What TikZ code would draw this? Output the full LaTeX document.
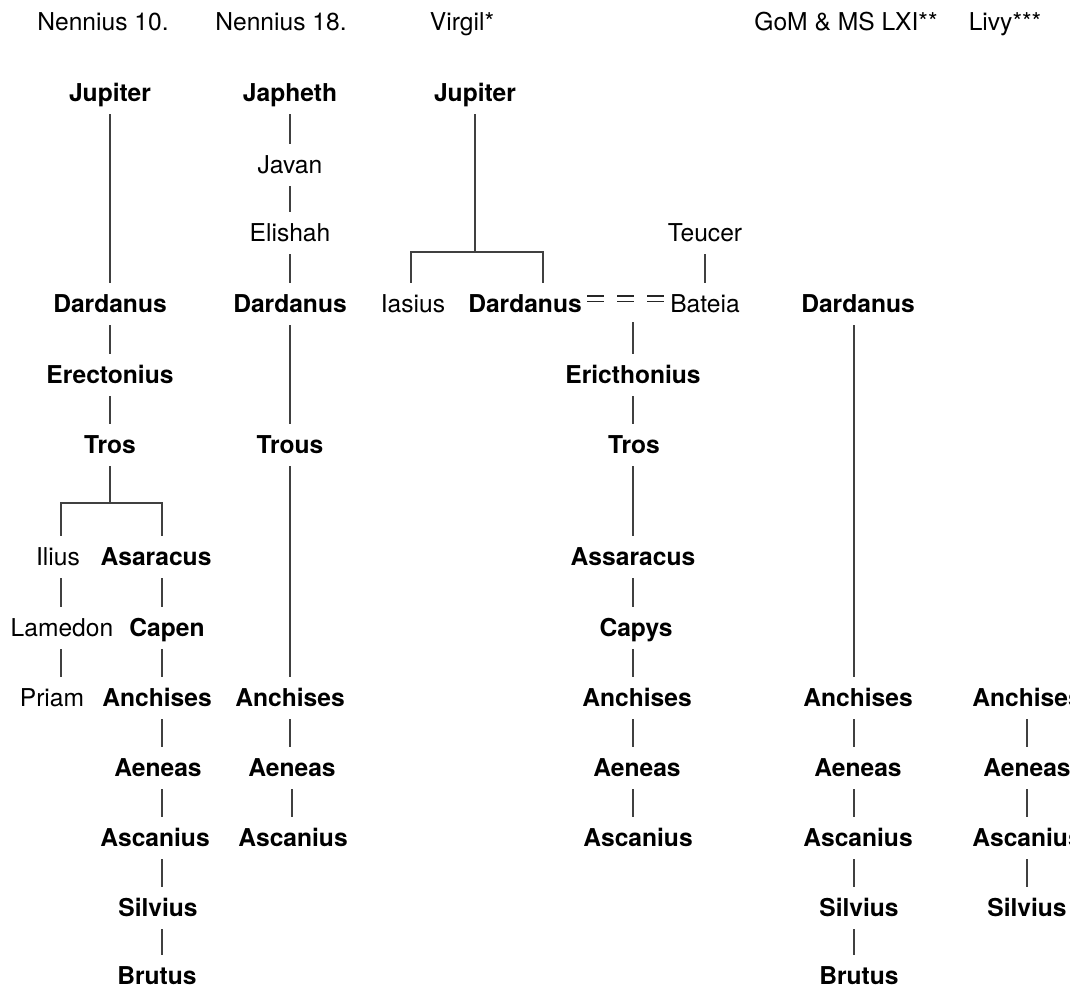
\documentclass[tikz,border=0pt]{standalone}
\usepackage{fontspec}
\setmainfont{TeX Gyre Heros}
\begin{document}
\begin{tikzpicture}[x=0.5pt,y=-0.5pt,
  nm/.style={inner xsep=0pt, inner ysep=6pt, text height=8.8pt, text depth=0pt, anchor=center, font=\fontsize{12.3}{14}\selectfont},
  bn/.style={nm, font=\fontsize{12.3}{14}\selectfont\bfseries},
  ln/.style={draw=black!75, line width=0.6pt},
  marry/.style={draw=black!85, line width=0.9pt, double=white, double distance=2pt, dash pattern=on 8.5pt off 6.5pt}]
\useasboundingbox (0,0) rectangle (1070,991);
\clip (0,0) rectangle (1070,991);
% headers
\node[nm] (h1) at (103,22) {Nennius 10.};
\node[nm] (h2) at (281,22) {Nennius 18.};
\node[nm] (h3) at (462,22) {Virgil*};
\node[nm] (h4) at (846,22) {GoM \& MS LXI**};
\node[nm] (h5) at (1005,22) {Livy***};
% Nennius 10
\node[bn] (JupA) at (110,93) {Jupiter};
\node[bn] (DardA) at (110,304) {Dardanus};
\node[bn] (EreA) at (110,375) {Erectonius};
\node[bn] (TrosA) at (110,445) {Tros};
\node[nm] (Ilius) at (58,557) {Ilius};
\node[nm] (Lamedon) at (62,628) {Lamedon};
\node[nm] (Priam) at (52,698) {Priam};
\node[bn] (AsaA) at (156,557) {Asaracus};
\node[bn] (Capen) at (167,628) {Capen};
\node[bn] (AnchA) at (157,698) {Anchises};
\node[bn] (AenA) at (158,768) {Aeneas};
\node[bn] (AscA) at (155,838) {Ascanius};
\node[bn] (SilA) at (158,908) {Silvius};
\node[bn] (BrutA) at (157,976) {Brutus};
\coordinate (al) at (61,503);
\coordinate (ar) at (162,503);
\draw[ln] (JupA.south) -- (JupA.south |- DardA.north);
\draw[ln] (DardA.south) -- (DardA.south |- EreA.north);
\draw[ln] (EreA.south) -- (EreA.south |- TrosA.north);
\draw[ln] (TrosA.south) -- (TrosA.south |- al);
\draw[ln] (Ilius.north -| al) -- (al) -- (ar) -- (AsaA.north -| ar);
\draw[ln] (Ilius.south -| al) -- (Lamedon.north -| al);
\draw[ln] (Lamedon.south -| al) -- (Priam.north -| al);
\draw[ln] (AsaA.south -| ar) -- (Capen.north -| ar);
\draw[ln] (Capen.south -| ar) -- (AnchA.north -| ar);
\draw[ln] (AnchA.south -| ar) -- (AenA.north -| ar);
\draw[ln] (AenA.south -| ar) -- (AscA.north -| ar);
\draw[ln] (AscA.south -| ar) -- (SilA.north -| ar);
\draw[ln] (SilA.south -| ar) -- (BrutA.north -| ar);
% Nennius 18
\node[bn] (Japheth) at (290,93) {Japheth};
\node[nm] (Javan) at (290,165) {Javan};
\node[nm] (Elishah) at (290,233) {Elishah};
\node[bn] (DardB) at (290,304) {Dardanus};
\node[bn] (Trous) at (290,445) {Trous};
\node[bn] (AnchB) at (290,698) {Anchises};
\node[bn] (AenB) at (292,768) {Aeneas};
\node[bn] (AscB) at (293,838) {Ascanius};
\draw[ln] (Japheth.south) -- (Japheth.south |- Javan.north);
\draw[ln] (Javan.south) -- (Javan.south |- Elishah.north);
\draw[ln] (Elishah.south) -- (Elishah.south |- DardB.north);
\draw[ln] (DardB.south) -- (DardB.south |- Trous.north);
\draw[ln] (Trous.south) -- (Trous.south |- AnchB.north);
\draw[ln] (AnchB.south) -- (AnchB.south |- AenB.north);
\draw[ln] (AenB.south) -- (AenB.south |- AscB.north);
% Virgil
\node[bn] (JupV) at (475,93) {Jupiter};
\node[nm] (Iasius) at (413,304) {Iasius};
\node[bn] (DardV) at (525,304) {Dardanus};
\node[nm] (Teucer) at (705,233) {Teucer};
\node[nm] (Bateia) at (705,304) {Bateia};
\node[bn] (EricV) at (633,375) {Ericthonius};
\node[bn] (TrosV) at (634,445) {Tros};
\node[bn] (AssV) at (633,557) {Assaracus};
\node[bn] (Capys) at (636,628) {Capys};
\node[bn] (AnchV) at (637,698) {Anchises};
\node[bn] (AenV) at (637,768) {Aeneas};
\node[bn] (AscV) at (638,838) {Ascanius};
\coordinate (vbl) at (411,252);
\coordinate (vbr) at (543,252);
\coordinate (vx) at (633,322);
\draw[ln] (JupV.south) -- (JupV.south |- vbl);
\draw[ln] (Iasius.north -| vbl) -- (vbl) -- (vbr) -- (DardV.north -| vbr);
\draw[ln] (Teucer.south) -- (Teucer.south |- Bateia.north);
\draw[marry] ([xshift=2.5pt,yshift=2.75pt]DardV.east) -- ++(77,0);
\draw[ln] (vx) -- (vx |- EricV.north);
\draw[ln] (EricV.south -| vx) -- (vx |- TrosV.north);
\draw[ln] (TrosV.south -| vx) -- (vx |- AssV.north);
\draw[ln] (AssV.south -| vx) -- (vx |- Capys.north);
\draw[ln] (Capys.south -| vx) -- (vx |- AnchV.north);
\draw[ln] (AnchV.south -| vx) -- (vx |- AenV.north);
\draw[ln] (AenV.south -| vx) -- (vx |- AscV.north);
% GoM & MS LXI
\node[bn] (DardG) at (858,304) {Dardanus};
\node[bn] (AnchG) at (858,698) {Anchises};
\node[bn] (AenG) at (858,768) {Aeneas};
\node[bn] (AscG) at (858,838) {Ascanius};
\node[bn] (SilG) at (859,908) {Silvius};
\node[bn] (BrutG) at (859,976) {Brutus};
\coordinate (gx) at (854,0);
\draw[ln] (DardG.south -| gx) -- (AnchG.north -| gx);
\draw[ln] (AnchG.south -| gx) -- (AenG.north -| gx);
\draw[ln] (AenG.south -| gx) -- (AscG.north -| gx);
\draw[ln] (AscG.south -| gx) -- (SilG.north -| gx);
\draw[ln] (SilG.south -| gx) -- (BrutG.north -| gx);
% Livy
\node[bn] (AnchL) at (1027,698) {Anchises};
\node[bn] (AenL) at (1027,768) {Aeneas};
\node[bn] (AscL) at (1027,838) {Ascanius};
\node[bn] (SilL) at (1027,908) {Silvius};
\draw[ln] (AnchL.south) -- (AnchL.south |- AenL.north);
\draw[ln] (AenL.south) -- (AenL.south |- AscL.north);
\draw[ln] (AscL.south) -- (AscL.south |- SilL.north);
\end{tikzpicture}
\end{document}
